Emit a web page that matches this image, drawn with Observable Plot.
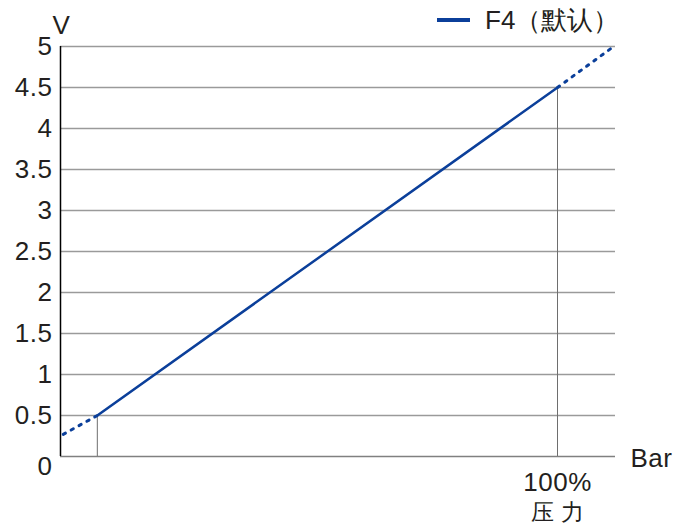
<!DOCTYPE html>
<html>
<head>
<meta charset="utf-8">
<script src="https://cdn.jsdelivr.net/npm/d3@7"></script>
<script src="https://cdn.jsdelivr.net/npm/@observablehq/plot@0.6"></script>
<style>
  html, body { margin: 0; padding: 0; background: #fff; }
  #wrap { position: relative; width: 677px; height: 524px; font-family: "Liberation Sans", Arial, sans-serif; }
  #legend { position: absolute; left: 437px; top: 5px; display: flex; align-items: center; font-size: 26px; color: #231f20; line-height: 30px; }
  #legend .sw { width: 33px; height: 4px; background: #0b3f9a; margin-right: 15px; }
</style>
</head>
<body>
<div id="wrap">
  <div id="legend"><span class="sw"></span><span>F4（默认）</span></div>
</div>
<script>
// Data
const seriesName = "F4（默认）";
const solidX = [0, 100];          // pressure %
const solidV = [0.5, 4.5];        // voltage
const lowDotX = [-7.4, 0];
const lowDotV = [0.27, 0.5];
const highDotX = [100, 112.2];
const highDotV = [4.5, 5.0];
const yTicks = [0.5, 1, 1.5, 2, 2.5, 3, 3.5, 4, 4.5, 5];
const yZeroTick = [0];
const xTicks = [100];
const xTickLabel = "100%";
const xAxisTitle = "压 力";
const refX = [0, 100];
const refV = [0.5, 4.5];

const xDomain = [-8, 112.6];
const blue = "#0b3f9a";
const ink = "#231f20";

const pts = (xs, vs) => xs.map((x, i) => ({x, v: vs[i]}));

const chart = Plot.plot({
  width: 677,
  height: 524,
  marginLeft: 60,
  marginRight: 62,
  marginTop: 46,
  marginBottom: 68,
  style: {fontFamily: "'Liberation Sans', Arial, sans-serif", fontSize: "26px", color: ink, background: "white", letterSpacing: "0.5px"},
  x: {domain: xDomain},
  y: {domain: [0, 5]},
  marks: [
    Plot.ruleY(yTicks, {x1: xDomain[0], x2: xDomain[1], stroke: "#9a9a9a", strokeWidth: 1.5}),
    Plot.ruleY(yZeroTick, {x1: xDomain[0], x2: xDomain[1], stroke: "#808080", strokeWidth: 1.5}),
    Plot.ruleX(refX.map((x, i) => ({x, v: refV[i]})), {x: "x", y1: 0, y2: "v", stroke: "#6e6e6e", strokeWidth: 1}),
    Plot.ruleX([xDomain[0]], {y1: 0, y2: 5, stroke: "#000", strokeWidth: 1.5}),
    Plot.line(pts(lowDotX, lowDotV), {x: "x", y: "v", stroke: blue, strokeWidth: 3, strokeDasharray: "2.5,6.5"}),
    Plot.line(pts(highDotX, highDotV), {x: "x", y: "v", stroke: blue, strokeWidth: 3, strokeDasharray: "2.5,6.5"}),
    Plot.line(pts(solidX, solidV), {x: "x", y: "v", stroke: blue, strokeWidth: 2.5}),
    Plot.axisY(yTicks, {tickSize: 0, tickPadding: 8, tickFormat: d => String(d), fontSize: 26, fill: ink, label: null}),
    Plot.axisY(yZeroTick, {tickSize: 0, tickPadding: 8, dy: 10, tickFormat: d => String(d), fontSize: 26, fill: ink, label: null}),
    Plot.axisX(xTicks, {tickSize: 0, tickPadding: 16, tickFormat: () => xTickLabel, fontSize: 26, fill: ink, label: null}),
    Plot.text([xAxisTitle], {x: xTicks[0], y: 0, dy: 56, fontSize: 23, fill: ink, letterSpacing: "2px"}),
    Plot.text(["Bar"], {x: xDomain[1], y: 0, dx: 15, dy: 2, textAnchor: "start", fontSize: 26, fill: ink}),
    Plot.text(["V"], {x: xDomain[0], y: 5, dx: 1, dy: -21, fontSize: 26, fill: ink})
  ]
});
document.getElementById("wrap").prepend(chart);
</script>
</body>
</html>
